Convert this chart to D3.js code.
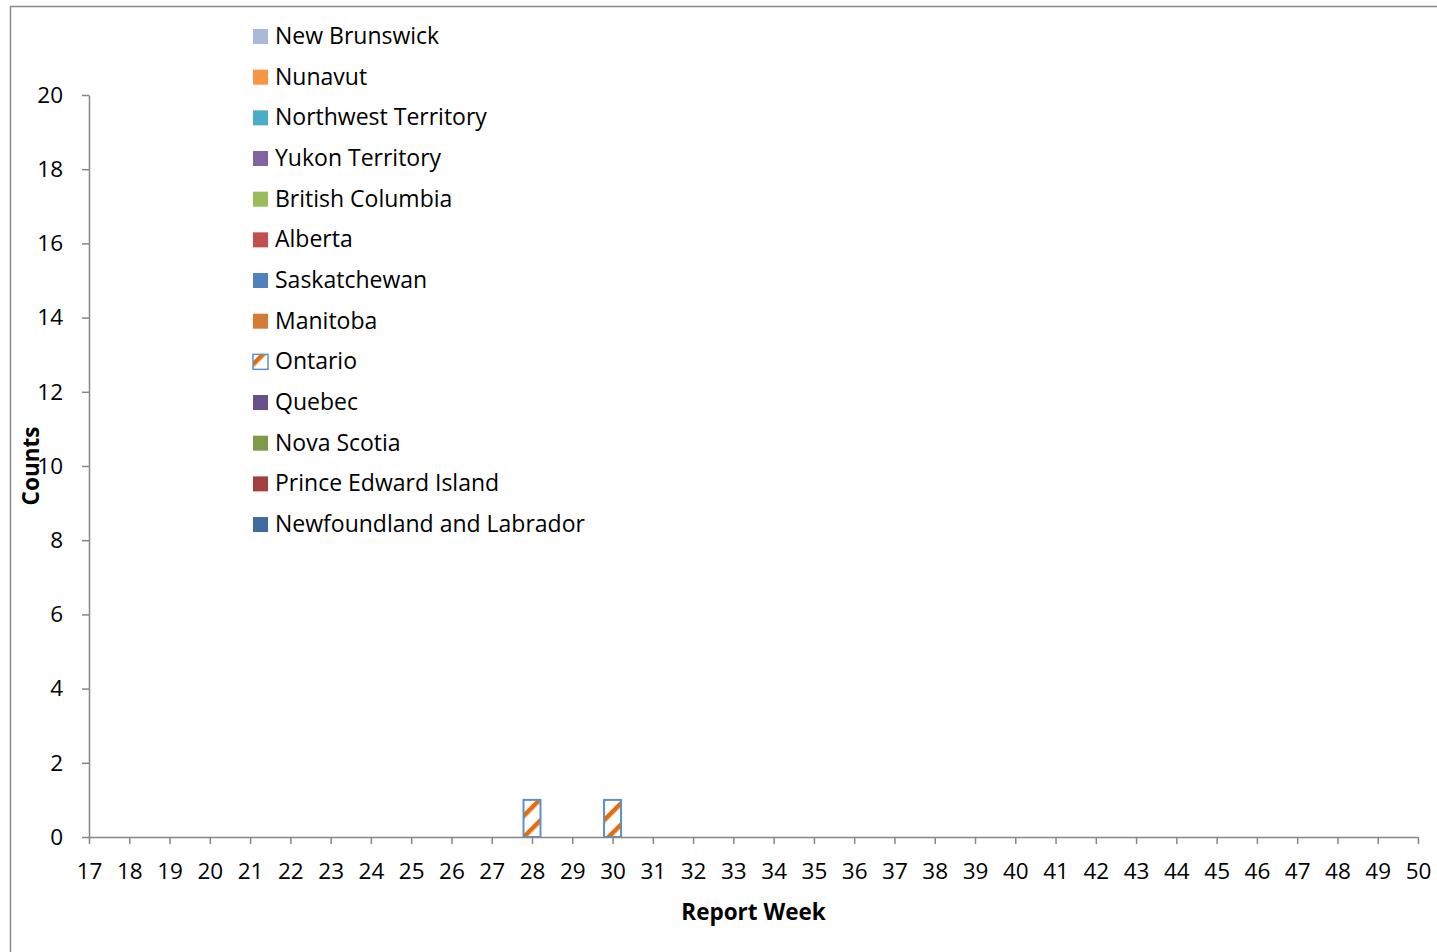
<!DOCTYPE html>
<html lang="en">
<head>
<meta charset="UTF-8">
<title>Counts by Report Week</title>
<style>
  body { margin: 0; background: #fff; }
  svg text { font-family: "Open Sans", Lato, sans-serif; fill: #000; }
  .axis path, .axis line { stroke: #868686; stroke-width: 1.5; }
  .axis text { font-size: 22.5px; }
</style>
</head>
<body>
<svg width="1437" height="952"></svg>
<script src="https://cdnjs.cloudflare.com/ajax/libs/d3/7.8.5/d3.min.js"></script>
<script>

  var weeks = d3.range(17, 51);
  var yTicks = [0, 2, 4, 6, 8, 10, 12, 14, 16, 18, 20];

  var provinces = ['New Brunswick', 'Nunavut', 'Northwest Territory', 'Yukon Territory',
    'British Columbia', 'Alberta', 'Saskatchewan', 'Manitoba', 'Ontario', 'Quebec',
    'Nova Scotia', 'Prince Edward Island', 'Newfoundland and Labrador'];

  var provinceColors = ['#A9B9D8', '#F79646', '#4BACC6', '#8064A2', '#9BBB59', '#C0504D',
    '#4F81BD', '#D47B38', 'url(#ontarioHatch)', '#664F8A', '#7F9A48', '#A04040', '#3F6BA0'];

  // only Ontario has any cases (week 28 and week 30)
  var ontarioWeeks = [28, 30];
  var ontarioCounts = [1, 1];

  var rows = weeks.map(function(w) {
    var row = { week: w };
    provinces.forEach(function(p) { row[p] = 0; });
    var i = ontarioWeeks.indexOf(w);
    if (i >= 0) row['Ontario'] = ontarioCounts[i];
    return row;
  });

  var svg = d3.select('svg');

  var defs = svg.append('defs');
  var hatch = defs.append('pattern')
    .attr('id', 'ontarioHatch')
    .attr('patternUnits', 'userSpaceOnUse')
    .attr('width', 15)
    .attr('height', 15)
    .attr('patternTransform', 'rotate(45)');
  hatch.append('rect').attr('width', 15).attr('height', 15).attr('fill', '#fff');
  hatch.append('rect').attr('width', 4.5).attr('height', 15).attr('fill', '#E46C0A');

  // outer chart border
  svg.append('rect')
    .attr('x', 10.5).attr('y', 6.5)
    .attr('width', 1500).attr('height', 1000)
    .attr('fill', 'none')
    .attr('stroke', '#8c8c8c')
    .attr('stroke-width', 1.5);

  var plotLeft = 89, plotRight = 1418, plotTop = 95, plotBottom = 837;

  var x = d3.scaleLinear().domain([17, 50]).range([plotLeft, plotRight]);
  var y = d3.scaleLinear().domain([0, 20]).range([plotBottom, plotTop]);

  var barWidth = 17;

  var xAxis = d3.axisBottom(x).tickValues(weeks).tickFormat(d3.format('d'))
    .tickSizeInner(7).tickSizeOuter(0).tickPadding(19);
  var yAxis = d3.axisLeft(y).tickValues(yTicks)
    .tickSizeInner(7).tickSizeOuter(0).tickPadding(19);

  svg.append('g')
    .attr('class', 'axis y')
    .attr('transform', 'translate(' + plotLeft + ',0)')
    .call(yAxis);

  var stack = d3.stack().keys(provinces);
  var layers = stack(rows);

  svg.selectAll('.layer')
    .data(layers)
    .enter()
    .append('g')
    .attr('class', 'layer')
    .attr('fill', function(d, i) { return provinceColors[i]; })
    .selectAll('rect')
    .data(function(d) { return d.filter(function(v) { return v[1] - v[0] > 0; }); })
    .enter()
    .append('rect')
    .attr('x', function(d) { return x(d.data.week) - barWidth / 2; })
    .attr('y', function(d) { return y(d[1]); })
    .attr('width', barWidth)
    .attr('height', function(d) { return y(d[0]) - y(d[1]); })
    .attr('stroke', '#5B8FD0')
    .attr('stroke-width', 2);

  svg.append('g')
    .attr('class', 'axis x')
    .attr('transform', 'translate(0,' + plotBottom + ')')
    .call(xAxis);

  svg.append('text')
    .text('Report Week')
    .attr('x', (plotLeft + plotRight) / 2)
    .attr('y', 920)
    .attr('text-anchor', 'middle')
    .style('font-size', '22.5px')
    .style('font-weight', 'bold');

  svg.append('text')
    .text('Counts')
    .attr('transform', 'translate(39,' + (plotTop + plotBottom) / 2 + ') rotate(-90)')
    .attr('text-anchor', 'middle')
    .style('font-size', '22.5px')
    .style('font-weight', 'bold');

  // legend
  var legendStep = 40.67;
  var legend = svg.append('g').attr('transform', 'translate(253,36)');
  var items = legend.selectAll('.item')
    .data(provinces)
    .enter()
    .append('g')
    .attr('class', 'item')
    .attr('transform', function(d, i) { return 'translate(0,' + i * legendStep + ')'; });

  items.append('rect')
    .attr('x', 0).attr('y', -7)
    .attr('width', 15).attr('height', 15)
    .attr('fill', function(d, i) { return provinceColors[i]; })
    .attr('stroke', function(d) { return d === 'Ontario' ? '#5B8FD0' : 'none'; })
    .attr('stroke-width', 1.5);

  items.append('text')
    .attr('x', 22)
    .attr('y', 0)
    .attr('dy', '0.35em')
    .style('font-size', '23px')
    .text(function(d) { return d; });

</script>
</body>
</html>
